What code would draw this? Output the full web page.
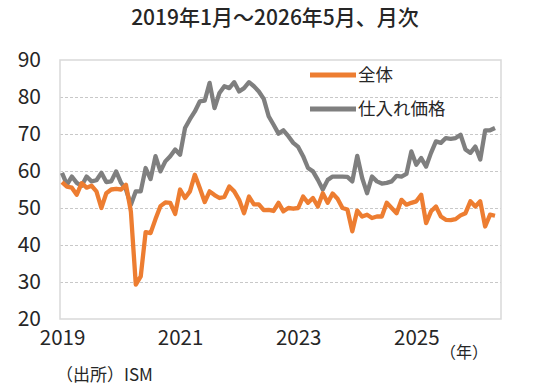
<!DOCTYPE html>
<html>
<head>
<meta charset="utf-8">
<script src="https://cdn.jsdelivr.net/npm/d3@7"></script>
<style>
  body { margin: 0; background: #fff; }
  svg text { font-family: 'Noto Sans CJK JP', 'Noto Sans', sans-serif; fill: #262626; }
</style>
</head>
<body>
<div id="chart"></div>
<script>
// monthly, Jan 2019 .. May 2026 (index 0..88)
var startYear = 2019
var yearTicks = [2019, 2021, 2023, 2025]
var yTicks = [20, 30, 40, 50, 60, 70, 80, 90]
var seriesNames = ['全体', '仕入れ価格']

var overall = [
  57.0, 55.8, 55.5, 53.6, 56.7, 55.5, 56.0, 54.5, 50.0, 54.0, 55.0, 55.2,
  55.0, 56.3, 49.0, 29.3, 31.5, 43.5, 43.2, 47.0, 50.5, 51.5, 51.4, 48.4,
  55.0, 52.7, 54.5, 59.0, 55.4, 51.6, 54.5, 53.5, 52.7, 53.0, 55.8, 54.5,
  52.2, 48.6, 53.1, 51.0, 51.0, 49.4, 49.5, 49.2, 51.4, 49.1, 50.0, 49.8,
  50.0, 53.1, 51.4, 52.7, 50.4, 54.0, 51.4, 53.9, 52.5, 50.0, 49.6, 43.7,
  49.3, 47.7, 48.2, 47.3, 47.7, 47.7, 51.4, 50.0, 48.6, 52.2, 50.9, 51.4,
  51.8, 53.6, 45.9, 49.1, 50.4, 47.7, 46.8, 46.7, 47.0, 48.0, 48.6, 51.8,
  50.4, 51.8, 45.0, 48.2, 47.9
]

var prices = [
  59.5, 56.3, 58.5, 56.8, 56.0, 58.5, 57.2, 57.5, 59.5, 57.0, 57.2, 59.9,
  56.8, 55.0, 50.9, 54.5, 54.5, 60.8, 57.8, 64.0, 59.9, 62.6, 64.0, 65.8,
  64.4, 71.6, 74.0, 76.1, 78.8, 79.0, 83.8, 77.0, 81.1, 82.9, 82.4, 84.0,
  81.5, 82.4, 84.0, 82.9, 81.5, 79.5, 74.8, 72.5, 70.1, 71.0, 69.4, 67.6,
  66.5, 64.0, 60.8, 59.9, 57.6, 55.0, 57.6, 58.5, 58.5, 58.5, 58.4, 57.2,
  64.1, 58.1, 54.0, 58.5, 57.2, 56.6, 56.8, 57.2, 58.7, 58.5, 59.2, 65.3,
  61.7, 63.5, 61.2, 64.9, 68.0, 67.6, 68.9, 68.7, 68.9, 69.8, 65.8, 64.9,
  66.6, 63.1, 71.0, 71.0, 71.6
]

var colors = ['#ED7D31', '#7F7F7F']

var margin = { top: 60, left: 60, right: 39, bottom: 71 }
var width = 540 - margin.left - margin.right
var height = 390 - margin.top - margin.bottom

var svg = d3
  .select('#chart')
  .append('svg')
  .attr('width', 540)
  .attr('height', 390)

var g = svg
  .append('g')
  .attr('transform', 'translate(' + margin.left + ',' + margin.top + ')')

var xPositionScale = d3
  .scaleLinear()
  .domain([0, overall.length - 1])
  .range([2, width - 6])
var yPositionScale = d3
  .scaleLinear()
  .domain([20, 90])
  .range([height, 0])

// title
svg
  .append('text')
  .text('2019年1月～2026年5月、月次')
  .attr('x', 275)
  .attr('y', 25)
  .attr('text-anchor', 'middle')
  .attr('font-size', 21)
  .attr('font-weight', 500)

// gridlines
var yGrid = d3
  .axisLeft(yPositionScale)
  .tickValues(yTicks.slice(1, -1))
  .tickSize(-width)
  .tickFormat('')
g.append('g')
  .attr('class', 'grid')
  .call(yGrid)
g.selectAll('.grid path').remove()
g.selectAll('.grid line')
  .attr('stroke', '#c8c8c8')
  .attr('stroke-dasharray', '3,2')

// frame
g.append('rect')
  .attr('x', 0)
  .attr('y', 0)
  .attr('width', width)
  .attr('height', height)
  .attr('fill', 'none')
  .attr('stroke', '#d9d9d9')
  .attr('stroke-width', 1.5)

// y labels
var yAxis = d3
  .axisLeft(yPositionScale)
  .tickValues(yTicks)
  .tickSize(0)
  .tickPadding(19)
g.append('g')
  .attr('class', 'y-axis')
  .call(yAxis)
g.select('.y-axis path').remove()
g.selectAll('.y-axis text')
  .attr('font-size', 21)
  .attr('font-family', null)
  .attr('fill', '#262626')

// x labels
var xAxis = d3
  .axisBottom(xPositionScale)
  .tickValues(yearTicks.map(function(y) {
    return (y - startYear) * 12
  }))
  .tickFormat(function(d) {
    return startYear + d / 12
  })
  .tickSize(0)
  .tickPadding(11)
g.append('g')
  .attr('class', 'x-axis')
  .attr('transform', 'translate(0,' + height + ')')
  .call(xAxis)
g.select('.x-axis path').remove()
g.selectAll('.x-axis text')
  .attr('font-size', 20.5)
  .attr('font-family', null)
  .attr('fill', '#262626')

svg
  .append('text')
  .text('（年）')
  .attr('x', 440)
  .attr('y', 358)
  .attr('font-size', 16)

svg
  .append('text')
  .text('（出所）ISM')
  .attr('x', 56)
  .attr('y', 381)
  .attr('font-size', 17)

// lines
var line = d3
  .line()
  .x(function(d, i) {
    return xPositionScale(i)
  })
  .y(function(d) {
    return yPositionScale(d)
  })

;[prices, overall].forEach(function(s, k) {
  g.append('path')
    .datum(s)
    .attr('d', line)
    .attr('fill', 'none')
    .attr('stroke', colors[1 - k])
    .attr('stroke-width', 4.3)
    .attr('stroke-linejoin', 'round')
})

// legend
var legend = g
  .selectAll('.legend')
  .data(seriesNames)
  .enter()
  .append('g')
  .attr('class', 'legend')
  .attr('transform', function(d, i) {
    return 'translate(250,' + (15 + i * 34) + ')'
  })
legend
  .append('line')
  .attr('x1', 0)
  .attr('x2', 46)
  .attr('stroke', function(d, i) {
    return colors[i]
  })
  .attr('stroke-width', 5)
legend
  .append('text')
  .text(function(d) {
    return d
  })
  .attr('x', 48)
  .attr('y', 6)
  .attr('font-size', 17.5)
</script>
</body>
</html>
